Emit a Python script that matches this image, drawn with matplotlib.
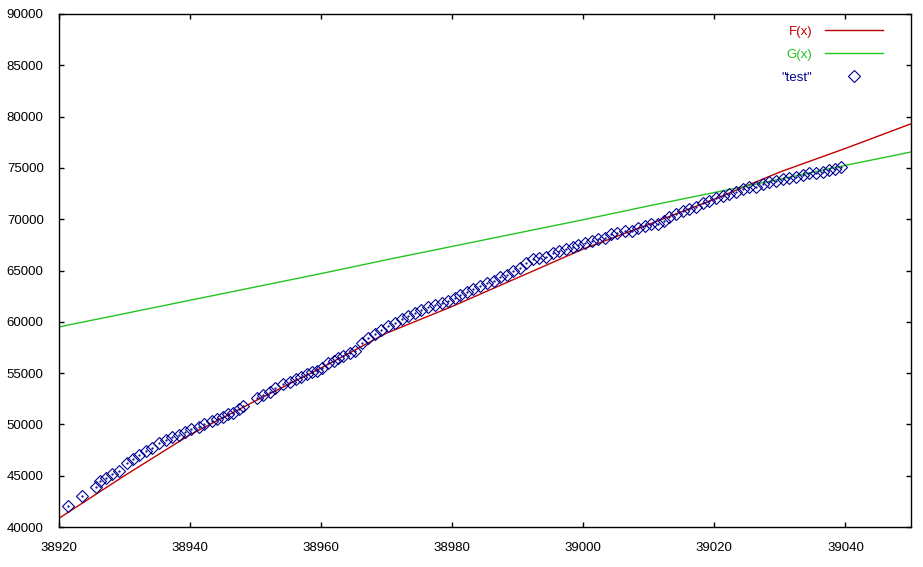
import matplotlib
matplotlib.use("Agg")
import matplotlib.pyplot as plt

# "test" data points
test_x = [38921.4, 38923.5, 38925.7, 38926.2, 38927.2, 38928.1, 38929.2, 38930.3, 38931.3, 38932.2,
          38933.2, 38934.2, 38935.2, 38936.3, 38937.3, 38938.3, 38939.2, 38940.2, 38941.3, 38942.2,
          38943.3, 38944.1, 38945.0, 38945.8, 38946.6, 38947.4, 38948.1, 38950.2, 38951.2, 38952.2,
          38953.0, 38954.2, 38955.3, 38956.2, 38957.0, 38957.8, 38958.6, 38959.4, 38960.1, 38961.1,
          38961.9, 38962.6, 38963.4, 38964.4, 38965.2, 38966.2, 38967.1, 38968.2, 38969.2, 38970.2,
          38971.3, 38972.3, 38973.3, 38974.3, 38975.3, 38976.3, 38977.4, 38978.4, 38979.4, 38980.4,
          38981.2, 38982.2, 38983.2, 38984.2, 38985.3, 38986.3, 38987.3, 38988.3, 38989.3, 38990.3,
          38991.3, 38992.3, 38993.3, 38994.3, 38995.3, 38996.3, 38997.4, 38998.4, 38999.2, 39000.3,
          39001.3, 39002.3, 39003.3, 39004.3, 39005.2, 39006.4, 39007.4, 39008.4, 39009.4, 39010.4,
          39011.4, 39012.3, 39013.1, 39014.1, 39015.2, 39016.2, 39017.2, 39018.2, 39019.2, 39020.2,
          39021.3, 39022.3, 39023.3, 39024.3, 39025.3, 39026.3, 39027.4, 39028.4, 39029.4, 39030.4,
          39031.4, 39032.4, 39033.5, 39034.5, 39035.5, 39036.5, 39037.5, 39038.4, 39039.3]
test_y = [42050, 43020, 43930, 44520, 44800, 45140, 45490, 46210, 46600, 47020,
          47440, 47730, 48160, 48480, 48740, 48940, 49290, 49520, 49780, 50040,
          50310, 50500, 50700, 50990, 51140, 51480, 51800, 52550, 52870, 53190,
          53520, 53910, 54170, 54400, 54600, 54920, 55140, 55240, 55470, 55960,
          56210, 56450, 56670, 56930, 57190, 57970, 58400, 58820, 59210, 59600,
          59920, 60250, 60570, 60830, 61160, 61420, 61650, 61810, 62070, 62300,
          62620, 62940, 63170, 63500, 63820, 64010, 64340, 64570, 64980, 65250,
          65770, 66100, 66200, 66300, 66690, 66940, 67080, 67330, 67500, 67720,
          67890, 68050, 68210, 68540, 68700, 68890, 68860, 69120, 69350, 69510,
          69510, 69850, 70200, 70520, 70840, 70980, 71230, 71560, 71790, 72050,
          72270, 72470, 72690, 72930, 73120, 73180, 73440, 73640, 73770, 73900,
          74000, 74160, 74320, 74480, 74540, 74640, 74810, 74870, 75070]

# sampled curves F(x) and G(x)
curve_x = [38920, 38930, 38940, 38950, 38960, 38970, 38980, 38990, 39000, 39010, 39020, 39030, 39040, 39050]
f_y = [40850, 45000, 49000, 52300, 55500, 58900, 61500, 64300, 67100, 69500, 71950, 74600, 76900, 79300]
g_y = [59500, 60800, 62100, 63400, 64700, 66050, 67350, 68650, 69950, 71300, 72600, 73900, 75250, 76550]

plt.rcParams['font.family'] = ['Liberation Sans', 'DejaVu Sans']

fig = plt.figure(figsize=(9.23, 5.67), dpi=100)
ax = fig.add_axes([59 / 923, 40 / 567, 852 / 923, 513 / 567])

red = '#c00000'
green = '#22c422'
blue = '#000090'

ax.plot(curve_x, f_y, color=red, lw=1, label='F(x)')
ax.plot(curve_x, g_y, color=green, lw=1, label='G(x)')
ax.plot(test_x, test_y, ls='none', marker='D', markersize=6, markerfacecolor='none',
        markeredgecolor=blue, markeredgewidth=0.8, label='"test"')
ax.plot(test_x, test_y, ls='none', marker='.', markersize=1.2, color=blue)

ax.set_xlim(38920, 39050)
ax.set_ylim(40000, 90000)
ax.set_xticks(range(38920, 39041, 20))
ax.set_yticks(range(40000, 90001, 5000))

ax.tick_params(direction='in', length=3.5, width=1, top=True, right=True, labelsize=9.5)
ax.tick_params(axis='y', pad=11)
ax.tick_params(axis='x', pad=11)
for s in ax.spines.values():
    s.set_linewidth(1)

leg = ax.legend(loc='upper right', bbox_to_anchor=(1.0 - 4 / 852, 1.0 + 12 / 513), frameon=False,
                markerfirst=False, fontsize=9.5, handlelength=4.4, handletextpad=1.0,
                labelspacing=0.8, borderaxespad=1.4, numpoints=1)
for txt, c in zip(leg.get_texts(), [red, green, blue]):
    txt.set_color(c)

fig.savefig('out.png', dpi=100)
